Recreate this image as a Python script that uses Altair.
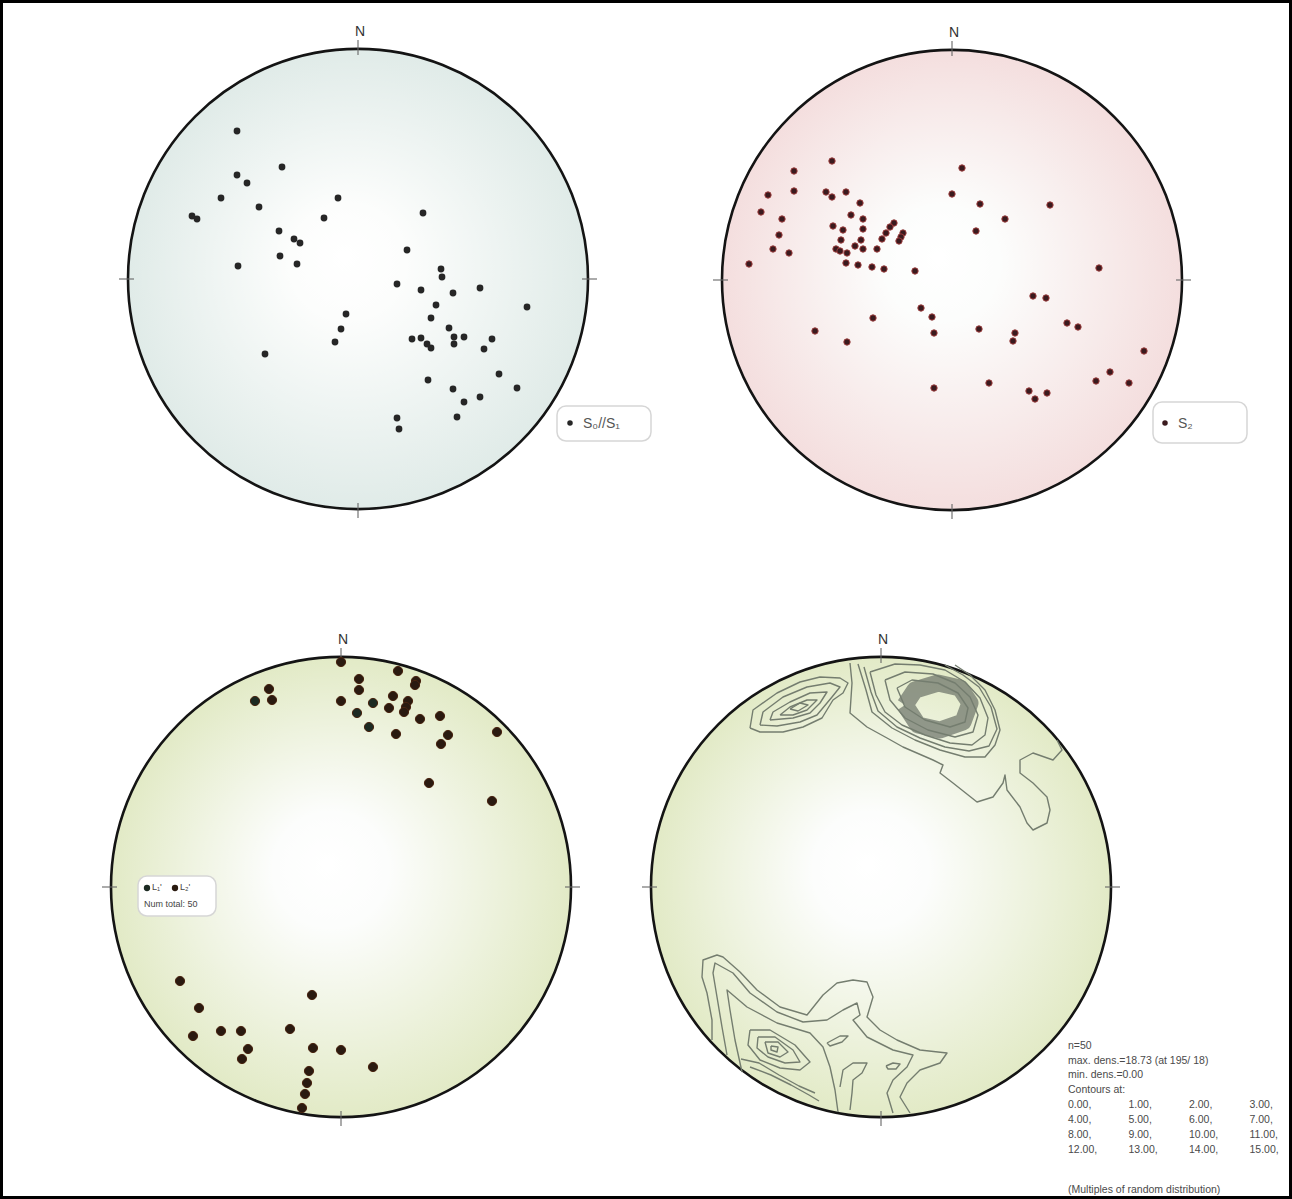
import altair as alt
import pandas as pd

W, H = 1292, 1199
NET_R = 230  # primitive circle radius, in net units

# centres of the four nets on the page
CENTRES = {
    "S01": (358, 279),
    "S2": (952, 280),
    "L": (341, 887),
    "DENS": (881, 887),
}

# ---- poles to S0//S1 (east, north in net units) ----
s01_east = [-121, -76, -121, -111, -137, -20, -99, -166, -161, -34, -79, -64, -58, -78, -61, -120,
            -93, 65, 49, 83, 84, 39, 63, 95, 122, 78, 169, -12, 73, -17, 91, -23, 54, 63, 69, 73,
            96, 106, 96, 134, 126, 70, 141, 95, 159, 122, 106, 99, 39, 41]
s01_north = [148, 112, 104, 96, 81, 81, 72, 63, 60, 61, 48, 40, 36, 23, 15, 13,
             -75, 66, 29, 10, 2, -5, -11, -14, -9, -26, -28, -35, -39, -50, -49, -63, -60, -59, -65, -69,
             -58, -58, -65, -60, -70, -101, -95, -110, -109, -118, -123, -138, -139, -150]

# ---- poles to S2 ----
s2_east = [-120, -158, -158, -184, -126, -120, -106, -92, -191, -101, -170, -89, -119, -109, -89, -173,
           -58, -62, -66, -49, -51, -53, -70, -111, -91, -97, -179, -163, -116, -112, -105, -89, -75,
           -203, -106, -94, -80, -68, -37, -31, -79, -137, -105, 10, 0, 28, 98, 53, 24, 147, 81, 94,
           -20, -18, 27, 63, 61, 115, 126, 192, 158, 144, 177, -18, 37, 77, 83, 95]
s2_north = [119, 109, 89, 85, 88, 83, 88, 77, 68, 65, 61, 61, 54, 50, 51, 45,
            57, 53, 47, 47, 43, 39, 41, 40, 40, 34, 31, 27, 31, 29, 27, 31, 31,
            16, 17, 15, 13, 11, 9, -28, -38, -51, -62, 112, 86, 76, 75, 61, 49, 12, -16, -18,
            -37, -53, -49, -53, -61, -43, -47, -71, -92, -101, -103, -108, -103, -111, -119, -113]

# ---- lineations L1 / L2 ----
l_east = [0, 18, 57, -72, -86, -69, 18, 0, 75, 74, 52, 32, 67, 65, 63, 48, 16, 28, 79, 99, 55,
          107, 100, 156, 88, 151, -161, -29, -142, -148, -120, -100, -51, -93, -99, -28, 0, 32,
          -32, -34, -36, -39]
l_north = [225, 208, 216, 198, 186, 187, 197, 186, 206, 202, 191, 184, 186, 180, 175, 179, 174,
           160, 168, 171, 153, 152, 143, 155, 104, 86, -94, -108, -121, -149, -144, -144, -142,
           -162, -172, -161, -163, -180, -184, -196, -207, -221]
l_set = ["L2", "L2", "L2", "L2", "L1", "L2", "L2", "L2", "L2", "L2", "L2", "L1", "L2", "L2", "L2",
         "L2", "L1", "L1", "L2", "L2", "L2", "L2", "L2", "L2", "L2", "L2", "L2", "L2", "L2", "L2",
         "L2", "L2", "L2", "L2", "L2", "L2", "L2", "L2", "L2", "L2", "L2", "L2"]

# ---- density contours of the lineations (east, north vertices) ----
contour_lines = {
    "nw_a": [(-131, 159), (-128, 177), (-104, 194), (-81, 205), (-61, 210), (-41, 209), (-33, 204),
             (-38, 194), (-48, 187), (-59, 169), (-78, 160), (-98, 155), (-121, 155), (-131, 159)],
    "nw_b": [(-121, 162), (-118, 175), (-98, 190), (-74, 200), (-51, 204), (-41, 200), (-49, 190),
             (-64, 172), (-81, 165), (-104, 161), (-121, 162)],
    "nw_c": [(-111, 167), (-108, 175), (-91, 185), (-71, 194), (-54, 195), (-61, 184), (-71, 174),
             (-88, 169), (-111, 167)],
    "nw_d": [(-101, 172), (-91, 180), (-74, 187), (-64, 187), (-74, 177), (-88, 172), (-101, 172)],
    "nw_e": [(-91, 178), (-81, 184), (-73, 182), (-83, 176), (-91, 178)],
    "ne_1": [(-31, 224), (-29, 204), (-31, 174), (-14, 160), (6, 149), (22, 140), (52, 127), (62, 122),
             (59, 114), (72, 104), (96, 85), (112, 90), (122, 104), (124, 112), (126, 97), (139, 80),
             (146, 64), (152, 57), (166, 64), (169, 77), (166, 90), (152, 104), (139, 114), (139, 127),
             (152, 134), (172, 127), (181, 137), (176, 147)],
    "ne_2": [(-23, 223), (-15, 197), (-9, 175), (11, 159), (34, 147), (59, 137), (84, 130), (104, 130),
             (114, 142), (119, 157), (114, 177), (104, 197), (89, 212), (74, 222)],
    "ne_2b": [(-17, 220), (-10, 195), (-3, 176), (16, 160), (39, 149), (64, 140), (88, 136), (108, 141),
              (116, 158), (110, 180), (98, 200), (82, 212), (64, 222)],
    "ne_3": [(-11, 215), (-5, 192), (4, 175), (21, 162), (44, 152), (69, 144), (91, 142), (104, 152),
             (107, 169), (99, 189), (84, 205), (64, 217), (39, 222), (14, 223), (-11, 215)],
    "ne_4": [(4, 207), (9, 187), (24, 169), (47, 157), (74, 150), (92, 155), (97, 172), (89, 190),
             (74, 204), (52, 213), (24, 215), (4, 207)],
    "ne_5": [(16, 199), (24, 180), (44, 167), (69, 160), (84, 165), (87, 179), (77, 194), (57, 204),
             (31, 207), (16, 199)],
    "sw_1": [(-169, -153), (-169, -133), (-174, -106), (-179, -90), (-178, -73), (-164, -68), (-158, -70),
             (-141, -85), (-124, -103), (-101, -120), (-74, -128), (-58, -108), (-44, -96), (-28, -93),
             (-14, -95), (-8, -110), (-14, -130), (-1, -143), (16, -153), (39, -163), (66, -166),
             (59, -176), (39, -183), (26, -196), (19, -210), (29, -226)],
    "sw_2": [(-154, -168), (-159, -140), (-164, -110), (-168, -86), (-166, -76), (-148, -86), (-131, -106),
             (-104, -125), (-78, -135), (-54, -133), (-38, -123), (-24, -116), (-21, -128), (-28, -133),
             (-14, -150), (12, -163), (32, -168), (26, -180), (12, -193), (6, -206), (12, -226)],
    "sw_3": [(-139, -185), (-146, -153), (-151, -123), (-154, -103), (-134, -120), (-104, -136),
             (-71, -146), (-58, -160), (-51, -180), (-46, -203), (-43, -225)],
    "sw_4": [(-41, -200), (-38, -183), (-28, -176), (-14, -176), (-19, -186), (-28, -193), (-29, -206),
             (-31, -223)],
    "sw_5": [(-140, -172), (-122, -176), (-102, -188), (-82, -199), (-66, -206)],
    "sw_6": [(-131, -180), (-110, -188), (-90, -198), (-72, -208), (-62, -214)],
    "sw_p1": [(-131, -143), (-111, -143), (-86, -158), (-71, -175), (-81, -183), (-101, -181), (-121, -173),
              (-133, -158), (-131, -143)],
    "sw_p2": [(-123, -150), (-106, -150), (-88, -163), (-81, -175), (-96, -176), (-113, -170), (-124, -161),
              (-123, -150)],
    "sw_p3": [(-116, -155), (-103, -155), (-93, -165), (-101, -170), (-113, -166), (-116, -155)],
    "sw_p4": [(-110, -159), (-103, -160), (-104, -165), (-110, -163), (-110, -159)],
    "s_b1": [(-54, -156), (-41, -149), (-33, -149), (-39, -155), (-51, -159), (-54, -156)],
    "s_b2": [(5, -179), (12, -176), (19, -177), (15, -182), (7, -182), (5, -179)],
}
# the densest band (highest contour levels) around the maximum
dense_band = [(24, 182), (34, 197), (57, 204), (79, 199), (89, 184), (82, 165), (59, 157), (37, 162), (24, 182)]

stats_lines = ["n=50", "max. dens.=18.73 (at 195/ 18)", "min. dens.=0.00", "Contours at:"]
contour_levels = ["0.00,", "1.00,", "2.00,", "3.00,", "4.00,", "5.00,", "6.00,", "7.00,",
                  "8.00,", "9.00,", "10.00,", "11.00,", "12.00,", "13.00,", "14.00,", "15.00,"]
FONT = "Liberation Sans"


def place(net, east, north, **extra):
    cx, cy = CENTRES[net]
    df = pd.DataFrame({"east": east, "north": north, **extra})
    df["X"] = cx + df["east"]
    df["Y"] = cy - df["north"]
    return df


X = alt.X("X:Q", scale=alt.Scale(domain=[0, W], nice=False, zero=False), axis=None)
Y = alt.Y("Y:Q", scale=alt.Scale(domain=[0, H], nice=False, zero=False, reverse=True), axis=None)
X2 = alt.X2("X2:Q")
Y2 = alt.Y2("Y2:Q")


def radial(edge):
    return {
        "gradient": "radial",
        "x1": 0.47, "y1": 0.45, "r1": 0.0,
        "x2": 0.5, "y2": 0.5, "r2": 0.5,
        "stops": [
            {"offset": 0.0, "color": "#ffffff"},
            {"offset": 0.25, "color": "#fcfdfc"},
            {"offset": 1.0, "color": edge},
        ],
    }


net_fill = {"S01": "#e0ebe8", "S2": "#f4dede", "L": "#e2eac6", "DENS": "#e2eac6"}
layers = []

# primitive circles
for net, edge in net_fill.items():
    cx, cy = CENTRES[net]
    layers.append(
        alt.Chart(pd.DataFrame({"X": [cx], "Y": [cy]}))
        .mark_point(shape="circle", size=(2 * NET_R) ** 2, filled=True, fill=radial(edge),
                    stroke="#141414", strokeWidth=2.6, opacity=1)
        .encode(x=X, y=Y)
    )

# cardinal ticks and north labels
tick_rows, north_rows = [], []
for net, (cx, cy) in CENTRES.items():
    r = NET_R
    tick_rows += [
        {"X": cx, "Y": cy - r - 9, "X2": cx, "Y2": cy - r + 6},
        {"X": cx, "Y": cy + r - 6, "X2": cx, "Y2": cy + r + 9},
        {"X": cx - r - 9, "Y": cy, "X2": cx - r + 6, "Y2": cy},
        {"X": cx + r - 6, "Y": cy, "X2": cx + r + 9, "Y2": cy},
    ]
    north_rows.append({"X": cx + 2, "Y": cy - r - 17, "t": "N"})
layers.append(alt.Chart(pd.DataFrame(tick_rows)).mark_rule(color="#666", strokeWidth=1.1)
              .encode(x=X, y=Y, x2=X2, y2=Y2))
layers.append(alt.Chart(pd.DataFrame(north_rows))
              .mark_text(font=FONT, fontSize=14, color="#333", baseline="middle")
              .encode(x=X, y=Y, text="t:N"))

# density contours
rows = []
for name, pts in contour_lines.items():
    for k, (e, n) in enumerate(pts):
        rows.append({"line": name, "k": k, "east": e, "north": n})
cdf = pd.DataFrame(rows)
cx, cy = CENTRES["DENS"]
cdf["X"] = cx + cdf["east"]
cdf["Y"] = cy - cdf["north"]
band = place("DENS", [p[0] for p in dense_band], [p[1] for p in dense_band], k=list(range(len(dense_band))))
layers.append(alt.Chart(band).mark_line(color="#6a7066", strokeWidth=17, opacity=0.7,
                                        strokeJoin="round", interpolate="linear")
              .encode(x=X, y=Y, order="k:O"))
layers.append(alt.Chart(cdf).mark_line(color="#747d6f", strokeWidth=1.4, strokeJoin="round")
              .encode(x=X, y=Y, detail="line:N", order="k:O"))

# data points
layers.append(alt.Chart(place("S01", s01_east, s01_north))
              .mark_point(shape="circle", size=46, filled=True, color="#262626", opacity=1)
              .encode(x=X, y=Y))
layers.append(alt.Chart(place("S2", s2_east, s2_north))
              .mark_point(shape="circle", size=40, filled=True, fill="#3a1a1e", stroke="#9a3a3a",
                          strokeWidth=1, opacity=1)
              .encode(x=X, y=Y))
layers.append(alt.Chart(place("L", l_east, l_north, set=l_set))
              .mark_point(shape="circle", size=85, filled=True, opacity=1, stroke="#4a2410", strokeWidth=1)
              .encode(x=X, y=Y,
                      fill=alt.Fill("set:N", scale=alt.Scale(domain=["L1", "L2"], range=["#1c2a22", "#2a1a10"]),
                                    legend=None)))


# legend boxes
def box(x0, y0, x1, y1):
    return (alt.Chart(pd.DataFrame({"a": [0]}))
            .mark_rect(fill="white", stroke="#d6d6d6", strokeWidth=1.5, cornerRadius=9)
            .encode(x=alt.value(x0), x2=alt.value(x1), y=alt.value(y0), y2=alt.value(y1)))


def label(x, y, text, size=13, color="#555", align="left"):
    return (alt.Chart(pd.DataFrame({"t": [text]}))
            .mark_text(font=FONT, fontSize=size, color=color, align=align, baseline="middle")
            .encode(x=alt.value(x), y=alt.value(y), text="t:N"))


def dot(x, y, size, color):
    return (alt.Chart(pd.DataFrame({"a": [0]}))
            .mark_point(shape="circle", size=size, filled=True, color=color, opacity=1)
            .encode(x=alt.value(x), y=alt.value(y)))


layers += [
    box(557, 406, 651, 441), dot(570, 423, 30, "#262626"), label(583, 424, "S₀//S₁", size=14),
    box(1153, 402, 1247, 443), dot(1165, 423, 30, "#3a1a1e"), label(1178, 424, "S₂", size=14),
    box(138, 876, 216, 916), dot(147, 888, 40, "#1c2a22"), label(152, 887, "L₁'", size=9, color="#444"),
    dot(175, 888, 40, "#2a1a10"), label(180, 887, "L₂'", size=9, color="#444"),
    label(144, 904, "Num total: 50", size=9, color="#444"),
]

# density statistics
for i, s in enumerate(stats_lines):
    layers.append(label(1068, 1046 + 14.6 * i, s, size=10.5, color="#4a4a4a"))
for i, s in enumerate(contour_levels):
    r, c = divmod(i, 4)
    layers.append(label(1068 + 60.5 * c, 1105 + 15 * r, s, size=10.5, color="#4a4a4a"))
layers.append(label(1068, 1190, "(Multiples of random distribution)", size=10.5, color="#4a4a4a"))

chart = (
    alt.layer(*layers)
    .properties(width=W, height=H, padding=0, autosize=alt.AutoSizeParams(type="none"), background="white")
    .configure_view(stroke="#000", strokeWidth=6)
)

chart.save("out.html", embed_options={"renderer": "svg", "actions": False})
